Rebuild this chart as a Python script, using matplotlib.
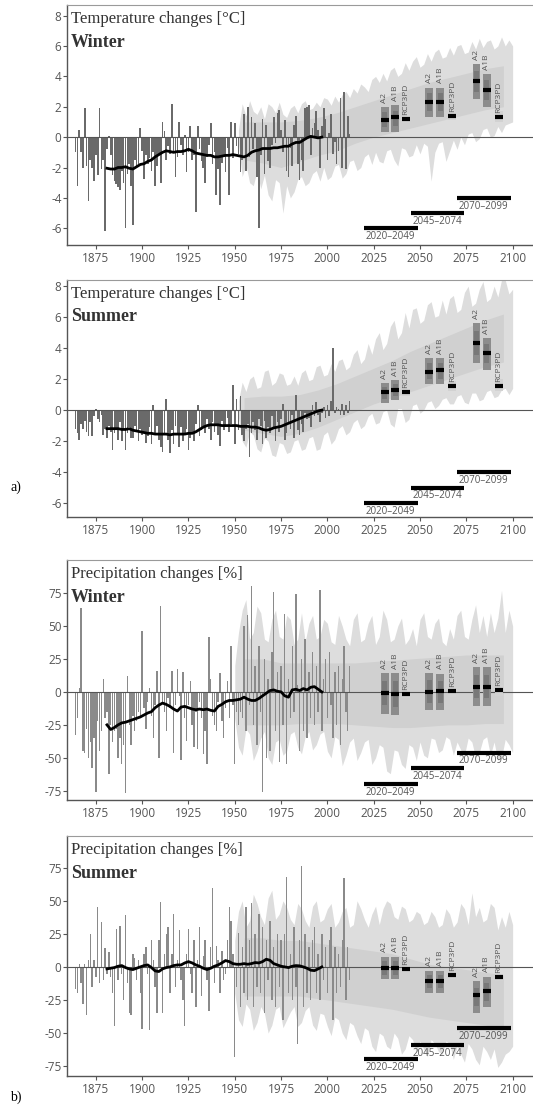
import matplotlib
matplotlib.use("Agg")
import matplotlib.pyplot as plt
from matplotlib.patches import Rectangle

plt.rcParams['axes.unicode_minus'] = False
plt.rcParams['font.family'] = ['Open Sans', 'DejaVu Sans']

# ---------------- data ----------------
OBS_YEARS = list(range(1864, 2013))
SMOOTH_YEARS = list(range(1881, 1998, 2))
BAND_YEARS_T = list(range(1952, 2101, 2))
BAND_YEARS_P = list(range(1950, 2101, 2))
INNER_YEARS = list(range(1955, 2096, 10))

BOX_X = [2031, 2036.5, 2042.5, 2055, 2061, 2067.5, 2080.5, 2086, 2092.5]
BOX_NAMES = ['A2', 'A1B', 'RCP3PD'] * 3
PERIODS = [(2020, 2049), (2045, 2074), (2070, 2099)]
PERIOD_LABELS = ['2020\u20132049', '2045\u20132074', '2070\u20132099']

# panel 1: temperature, winter
tw_obs = [-1.0, -3.2, 0.5, -1.0, -2.0, 1.9, -1.9, -4.2, -1.5, -2.0,
          -2.9, -1.2, -2.5, 1.95, -2.1, -1.5, -6.2, -0.8, 0.1, -1.2,
          -2.5, -2.9, -3.1, -3.3, -3.5, -2.2, -3.0, -6.0, -2.4, -1.8,
          -3.2, -5.8, -1.5, -2.0, -1.8, 0.6, -0.9, -2.75, -1.2, -1.8,
          -1.4, -2.2, -1.0, -3.2, -1.9, -1.2, -3.0, 1.0, 0.4, -1.5,
          -0.6, -1.1, 2.2, -0.9, -2.6, -1.3, 1.0, -0.5, -1.2, 0.15,
          -2.3, -1.0, 0.7, -1.5, -1.2, -4.9, 0.7, -0.8, -1.6, -2.0,
          -3.0, -1.3, -0.5, 0.9, -1.8, -1.0, -3.8, -2.1, -4.5, -1.7,
          -1.2, -2.3, -0.7, -3.8, 1.0, -1.4, 0.9, -0.6, -1.1, -2.3,
          -1.5, 1.5, -2.2, 2.0, -1.3, 1.3, -0.8, 0.9, -2.6, -6.0,
          -1.2, 1.2, -2.4, 0.8, -1.6, -2.0, -0.5, 1.3, -0.4, 1.6,
          1.8, 0.5, -1.0, 1.1, -2.2, -2.6, -0.7, -1.9, 0.8, 1.4,
          -1.8, -2.8, -1.5, -2.2, 1.9, 2.0, 2.1, -1.2, 0.6, 0.9,
          1.7, 0.5, -2.0, 0.7, 1.9, 1.2, -1.5, 0.3, 1.5, -1.1,
          -0.3, -1.8, -0.9, 2.6, -2.0, 3.0, -2.1, 1.4, 0.2]
tw_smooth = [-2.05, -2.1, -2.1, -2.0, -2.0, -1.95, -2.05, -2.1, -1.95, -1.8,
             -1.75, -1.6, -1.5, -1.3, -1.15, -1.0, -0.9, -0.95, -1.0, -0.95,
             -0.95, -0.9, -0.8, -0.9, -1.05, -1.1, -1.15, -1.2, -1.2, -1.3,
             -1.3, -1.25, -1.2, -1.2, -1.15, -1.2, -1.25, -1.3, -1.2, -1.0,
             -0.9, -0.85, -0.75, -0.75, -0.75, -0.7, -0.7, -0.65, -0.6, -0.6,
             -0.45, -0.35, -0.35, -0.2, -0.05, 0.05, 0.0, -0.05, 0.0]
tw_band_up = [0.5, 2.2, 1.4, 2.4, 1.7, 1.5, 2.0, 1.2, 2.2, 2.0,
              1.6, 2.3, 1.5, 1.3, 1.9, 2.1, 1.6, 2.2, 2.4, 1.8,
              1.9, 2.3, 2.0, 2.6, 2.5, 2.1, 2.7, 2.3, 2.8, 3.0,
              2.6, 3.2, 2.9, 3.5, 3.3, 3.0, 3.8, 4.0, 3.6, 4.2,
              3.7, 4.4, 4.6, 4.0, 4.2, 4.9, 4.4, 5.0, 5.3, 4.6,
              4.8, 5.5, 5.0, 5.6, 5.8, 5.2, 5.3, 5.9, 5.4, 6.0,
              6.1, 5.5, 5.6, 6.3, 5.8, 6.5, 5.9, 6.3, 6.4, 5.8,
              6.0, 6.6, 6.0, 6.4, 6.0]
tw_band_lo = [-0.5, -2.6, -1.8, -3.0, -3.2, -2.2, -3.4, -2.5, -3.8, -4.2,
              -2.8, -3.0, -5.0, -3.2, -4.0, -3.6, -2.8, -2.6, -3.2, -3.0,
              -2.4, -2.2, -2.9, -2.0, -2.8, -2.6, -1.9, -1.8, -2.7, -2.4,
              -1.6, -1.5, -2.2, -2.0, -1.3, -1.1, -1.8, -1.0, -1.6, -1.7,
              -0.9, -0.8, -1.5, -1.9, -0.7, -0.8, -1.3, -1.2, -0.5, -1.1,
              -0.4, -0.6, -2.9, -1.0, -0.4, -0.3, -1.6, -0.9, -0.2, -0.8,
              0.0, -0.5, 0.2, 0.3, -0.3, -0.1, 0.5, 0.6, 0.0, 0.1,
              0.7, 0.3, 0.8, 0.9, 1.0]
tw_inner_up = [1.0, 1.0, 1.0, 1.1, 1.3, 1.6, 2.0, 2.4, 2.8, 3.2, 3.6, 3.9, 4.2, 4.5, 4.7]
tw_inner_lo = [-1.5, -1.7, -2.0, -1.6, -1.2, -0.9, -0.4, 0.0, 0.3, 0.6, 0.9, 1.2, 1.5, 1.8, 2.0]
tw_box_lo = [0.35, 0.35, 0.9, 1.34, 1.34, 1.1, 2.54, 1.99, 1.0]
tw_box_hi = [2.0, 2.1, 1.5, 3.26, 3.26, 1.7, 4.83, 4.17, 1.7]
tw_box_med = [1.13, 1.3, 1.2, 2.32, 2.32, 1.4, 3.67, 3.13, 1.34]

# panel 2: temperature, summer
ts_obs = [-1.2, -1.5, -1.9, -0.9, -1.2, -0.7, -1.4, -1.7, -0.8, -1.7,
          -0.4, 0.05, -0.6, -0.8, -0.3, -1.6, -1.2, -1.8, -1.0, -1.4,
          -2.6, -1.5, -1.2, -1.9, -0.8, -2.0, -1.3, -2.6, -1.5, -1.1,
          -1.8, -1.8, -1.0, -1.4, -2.0, -1.2, -1.6, -1.4, -2.1, -1.7,
          -1.1, -2.2, 0.3, -1.5, -1.0, -1.9, -2.4, -2.7, -1.6, 0.7,
          -1.9, -2.8, -1.3, -2.2, -1.0, -1.5, -2.4, -1.1, -2.0, -1.6,
          -1.2, -2.6, -1.8, -1.4, -2.0, -0.9, 0.3, -1.7, -1.3, -1.0,
          -1.5, -0.6, -1.2, -1.9, -0.8, -1.4, -1.0, -1.6, -2.3, -0.7,
          -1.3, -1.1, -0.5, -1.4, -0.9, 1.6, -2.2, 0.7, -1.3, 0.9,
          -1.6, -2.0, -1.2, -0.9, -3.0, -1.5, -0.8, -1.3, -1.9, -0.6,
          -1.0, -2.2, -0.7, -1.8, -1.1, -1.5, -0.4, -1.2, -2.0, -0.8,
          -1.4, -0.6, 0.4, -1.9, -1.5, -0.8, -1.2, -0.3, -1.8, 1.0,
          -1.3, -1.6, -0.9, -1.4, -0.2, -0.6, -0.5, -1.1, 0.3, -0.4,
          0.5, -0.3, -0.8, -0.2, 0.2, -0.5, 0.3, -0.4, 0.6, 4.0,
          -0.2, 0.2, 0.1, -0.3, 0.4, -0.3, 0.3, -0.2, 0.6]
ts_smooth = [-1.2, -1.2, -1.2, -1.2, -1.25, -1.25, -1.2, -1.3, -1.35, -1.4,
             -1.45, -1.5, -1.5, -1.55, -1.55, -1.55, -1.55, -1.6, -1.55, -1.55,
             -1.55, -1.55, -1.5, -1.5, -1.4, -1.25, -1.1, -1.0, -0.95, -0.95,
             -0.95, -1.0, -1.0, -1.0, -1.0, -1.0, -1.05, -1.05, -1.05, -1.1,
             -1.1, -1.15, -1.25, -1.3, -1.25, -1.15, -1.1, -1.05, -0.95, -0.85,
             -0.75, -0.65, -0.55, -0.45, -0.35, -0.25, -0.15, -0.05, 0.0]
ts_band_up = [0.6, 1.8, 1.2, 2.0, 2.2, 1.4, 1.5, 2.5, 2.6, 1.6,
              1.8, 2.4, 2.3, 1.6, 1.7, 2.2, 1.6, 2.4, 2.6, 1.9,
              2.0, 2.8, 2.9, 2.2, 2.3, 3.0, 2.5, 3.2, 3.3, 2.6,
              2.8, 3.6, 3.9, 3.0, 3.3, 4.3, 3.6, 4.6, 5.0, 3.9,
              4.3, 5.4, 5.8, 4.6, 5.0, 6.3, 5.3, 6.5, 6.6, 5.6,
              5.8, 6.8, 7.0, 6.0, 6.1, 7.1, 6.2, 7.2, 7.4, 6.3,
              6.5, 7.6, 8.0, 6.7, 6.9, 7.8, 8.3, 7.0, 7.2, 8.0,
              7.3, 8.4, 8.4, 7.5, 7.8]
ts_band_lo = [-0.5, -2.0, -2.4, -1.4, -1.6, -2.5, -2.7, -1.8, -2.0, -2.9,
              -3.0, -2.1, -2.2, -2.8, -2.7, -2.0, -1.9, -2.6, -2.5, -1.8,
              -1.7, -2.6, -2.5, -1.6, -1.4, -2.2, -1.9, -1.2, -1.0, -1.6,
              -1.4, -0.8, -0.6, -1.2, -1.0, -0.4, -0.2, -0.9, -0.8, -0.1,
              0.0, -0.9, -1.1, 0.1, 0.1, -0.8, -0.6, 0.3, 0.4, -0.2,
              0.0, 0.5, 0.6, 0.1, 0.3, 0.7, 0.8, 0.4, 0.4, 0.9,
              1.0, 0.5, 0.4, 1.1, 1.1, 0.6, 0.7, 1.2, 1.3, 0.8,
              0.9, 1.3, 1.4, 1.0, 1.4]
ts_inner_up = [0.8, 0.9, 0.9, 1.0, 1.3, 1.7, 2.2, 2.7, 3.2, 3.8, 4.3, 4.8, 5.3, 5.8, 6.2]
ts_inner_lo = [-1.3, -1.5, -1.7, -1.5, -1.1, -0.6, -0.1, 0.4, 0.8, 1.2, 1.6, 2.0, 2.4, 2.8, 3.1]
ts_box_lo = [0.45, 0.62, 0.9, 1.7, 1.7, 1.2, 3.03, 2.6, 1.2]
ts_box_hi = [1.74, 1.96, 1.5, 3.35, 3.35, 1.9, 5.6, 4.65, 2.0]
ts_box_med = [1.14, 1.27, 1.18, 2.49, 2.56, 1.53, 4.32, 3.68, 1.57]

# panel 3: precipitation, winter
pw_obs = [-33, -20, 3, 64, -45, -46, -28, -50, -38, -58,
          -35, -76, -22, -45, -30, 10, -20, -15, -62, -25,
          -38, -30, -28, -50, -35, -55, -40, -77, 12, -25,
          -40, -18, -30, -22, -15, -20, 46, -12, -28, -8,
          3, -18, -35, -10, 16, -50, 65, -8, -15, -30,
          -5, -12, 16, -46, -10, 17, -3, -52, 15, -20,
          -37, -10, 8, -25, -42, -15, -43, -8, -20, -47,
          -30, -55, 42, 10, -18, -25, -30, -8, 14, -22,
          -35, -12, 8, -20, 35, -10, -55, -15, -25, -15,
          -20, 50, -30, 58, -10, 80, -25, 20, -40, 35,
          -15, -76, 25, -50, 10, -45, 30, 76, -30, 15,
          -53, 20, -25, 59, -55, 10, -20, 35, -15, 74,
          5, -45, 25, -30, 40, -35, 15, -20, 30, -25,
          20, -15, 77, -30, 10, 25, -20, 30, -10, -35,
          15, -25, 20, -40, 10, 35, -15, -30, 20]
pw_smooth = [-25, -28.5, -27, -25, -23.5, -23, -22, -21, -20, -19,
             -17.5, -16, -15, -12, -10, -8.5, -9.5, -11, -13, -14.5,
             -11.5, -11, -12, -13, -13.5, -13, -13.5, -13, -14, -14.5,
             -11, -9.5, -7.5, -6.5, -6.5, -6, -5.5, -4, -5.5, -6.5,
             -6.5, -5, -3, -1, 1, 1.5, 0.5, 0, -3, -4,
             1.5, 2, 1, 2.5, 1.5, 3.5, 4, 2, 0]
pw_band_up = [20, 45, 62, 70, 40, 45, 65, 60, 40, 38,
              55, 62, 42, 40, 58, 55, 36, 40, 60, 38,
              52, 58, 40, 42, 55, 52, 38, 36, 58, 50,
              40, 35, 55, 60, 38, 40, 52, 58, 36, 42,
              62, 55, 38, 40, 50, 56, 36, 40, 48, 35,
              55, 60, 42, 40, 52, 56, 38, 35, 48, 40,
              58, 62, 42, 40, 55, 66, 45, 58, 42, 60,
              45, 56, 77, 45, 62, 50]
pw_band_lo = [-20, -42, -48, -28, -32, -52, -45, -35, -30, -50,
              -55, -38, -36, -48, -45, -32, -30, -42, -47, -34,
              -30, -44, -40, -32, -30, -45, -50, -34, -36, -56,
              -48, -38, -35, -52, -46, -38, -36, -55, -50, -40,
              -42, -60, -62, -44, -45, -55, -58, -40, -42, -52,
              -38, -48, -50, -35, -36, -46, -44, -34, -36, -48,
              -38, -44, -48, -35, -38, -50, -46, -36, -34, -48,
              -38, -52, -50, -36, -40, -46]
pw_inner_up = [25, 25, 22, 22, 22, 22, 22, 23, 24, 25, 26, 27, 28, 28, 28]
pw_inner_lo = [-25, -25, -25, -24, -24, -24, -25, -26, -27, -27, -26, -25, -25, -24, -24]
pw_box_lo = [-16.4, -17.7, -5, -13.9, -13.9, -4, -10.9, -10.9, -3]
pw_box_hi = [14.4, 14.4, 2, 14.4, 13.9, 4, 18.9, 18.9, 5]
pw_box_med = [-0.8, -1.8, -1.8, 0, 0.8, 0.8, 3.8, 3.8, 1.5]

# panel 4: precipitation, summer
ps_obs = [-17, -20, 2, -12, -28, 2, -36, 5, 25, -15,
          5, -8, 45, -12, 34, -10, 14, -5, 11, -8,
          -20, -45, 29, -10, 31, -5, -25, 39, -12, -35,
          -36, 10, 7, -10, 5, -20, -47, 10, 15, -5,
          -48, 20, 5, -15, -35, 20, 49, -35, 10, 25,
          30, -20, 10, 40, -15, 5, 28, -10, -25, -45,
          10, 29, -5, -20, 20, -30, 5, 30, -22, 8,
          20, -10, -33, 15, 60, -12, 16, 5, -20, 12,
          -10, -5, 20, 45, 35, 10, -68, -15, 26, -30,
          15, -20, 45, -25, 20, 48, -30, 25, -15, 40,
          -20, 30, -35, 20, -10, 35, -25, 15, -30, 25,
          -15, 20, -40, 25, 68, -20, 10, -25, 30, -15,
          -58, 20, 76, -30, 25, -20, 15, -25, 20, 30,
          -20, 10, -25, 25, -10, 15, -20, 20, 30, -40,
          15, -20, 10, -15, 20, 67, -25, 15, -10]
ps_smooth = [-1.5, -1.0, -0.5, 0.5, 1.0, -0.5, -1.5, -2.0, -1.0, 0.0,
             1.0, 1.5, -0.5, -3.0, -3.5, -1.5, -0.5, 0.0, 1.0, 1.5,
             1.5, 3.0, 4.0, 3.0, 1.5, 0.5, -1.0, -2.0, -1.0, 0.5,
             1.5, 3.0, 4.8, 4.0, 2.5, 2.0, 2.0, 2.5, 2.0, 2.5,
             3.3, 3.0, 4.0, 5.8, 5.0, 2.5, 1.5, 0.5, 0.0, -0.5,
             0.5, 1.0, 0.8, 0.0, -1.0, -2.5, -2.8, -1.5, 0.0]
ps_band_up = [20, 42, 50, 30, 35, 55, 48, 38, 32, 52,
              58, 36, 40, 50, 45, 36, 32, 48, 44, 35,
              30, 46, 50, 34, 36, 44, 48, 30, 34, 42,
              45, 30, 32, 50, 44, 36, 30, 40, 46, 32,
              44, 50, 48, 38, 36, 46, 44, 34, 36, 42,
              40, 32, 34, 42, 38, 30, 32, 44, 40, 30,
              34, 48, 44, 32, 56, 38, 45, 34, 36, 48,
              45, 28, 38, 30, 42, 32]
ps_band_lo = [-20, -40, -45, -28, -32, -48, -42, -30, -35, -50,
              -44, -32, -30, -46, -40, -34, -30, -45, -42, -33,
              -30, -44, -48, -35, -36, -45, -52, -38, -40, -50,
              -55, -42, -44, -52, -58, -46, -48, -60, -64, -50,
              -52, -60, -62, -50, -54, -66, -62, -52, -55, -65,
              -56, -62, -68, -55, -58, -64, -66, -56, -58, -70,
              -60, -66, -72, -58, -62, -70, -74, -60, -64, -70,
              -62, -76, -72, -66, -64, -60]
ps_inner_up = [22, 22, 20, 20, 18, 16, 14, 12, 10, 6, 2, 0, -2, -4, -6]
ps_inner_lo = [-22, -22, -22, -22, -24, -26, -28, -30, -32, -35, -38, -40, -42, -44, -46]
ps_box_lo = [-9.3, -9.3, -4, -19.4, -19.4, -9, -34.6, -30.6, -11]
ps_box_hi = [7.8, 7.8, 1, -2.8, -2.8, -3, -11, -7.3, -5]
ps_box_med = [-1, -1, -1.5, -10.4, -10.4, -6, -21.2, -18.2, -8]

GREY_TXT = '#555555'


def draw_panel(ax, obs, smooth, band_years, band_up, band_lo, inner_up, inner_lo,
               box_lo, box_hi, box_med, period_y, ylim, yticks, title, season,
               obs_color, bar_w):
    ax.fill_between(band_years, band_lo, band_up, color='#dddddd', lw=0, zorder=1)
    ax.fill_between(INNER_YEARS, inner_lo, inner_up, color='#d0d0d0', lw=0, zorder=1.2)
    ax.bar(OBS_YEARS, obs, width=bar_w, color=obs_color, zorder=2)
    ax.axhline(0, color='#555555', lw=0.8, zorder=2.5)
    ax.plot(SMOOTH_YEARS, smooth, color='black', lw=2, zorder=5)

    # scenario boxes
    w = 4.3
    for x, lo, hi, med, name in zip(BOX_X, box_lo, box_hi, box_med, BOX_NAMES):
        if name == 'RCP3PD':
            ax.add_patch(Rectangle((x - w / 2, lo), w, hi - lo, color='#d2d2d2', lw=0, zorder=3))
            top = med
        else:
            ax.add_patch(Rectangle((x - w / 2, lo), w, hi - lo, color='#8c8c8c', lw=0, zorder=3))
            ax.add_patch(Rectangle((x - w / 2 + 0.8, lo + (hi - lo) * 0.2), w - 1.6,
                                   (hi - lo) * 0.6, color='#787878', lw=0, zorder=3.1))
            top = hi
        ax.plot([x - w / 2, x + w / 2], [med, med], color='black', lw=3,
                solid_capstyle='butt', zorder=4)
        ax.annotate(name, (x, top), xytext=(0, 3), textcoords='offset points',
                    rotation=90, ha='center', va='bottom', fontsize=6,
                    color=GREY_TXT, zorder=4)

    # period bars
    for (x0, x1), y, lab in zip(PERIODS, period_y, PERIOD_LABELS):
        ax.plot([x0, x1], [y, y], color='black', lw=3, solid_capstyle='butt', zorder=4)
        ax.annotate(lab, (x0, y), xytext=(1, -2), textcoords='offset points',
                    ha='left', va='top', fontsize=7, color=GREY_TXT, zorder=4)

    ax.set_xlim(1859.5, 2111)
    ax.set_ylim(*ylim)
    ax.set_yticks(yticks)
    ax.set_xticks([1875, 1900, 1925, 1950, 1975, 2000, 2025, 2050, 2075, 2100])
    ax.tick_params(axis='both', labelsize=8.5, colors='#555555', length=3, width=0.8, pad=2)
    ax.tick_params(axis='y', pad=1)
    ax.spines['right'].set_visible(False)
    ax.spines['top'].set_color('#9a9a9a')
    ax.spines['top'].set_linewidth(0.8)
    for s in ['left', 'bottom']:
        ax.spines[s].set_color('#555555')
        ax.spines[s].set_linewidth(1.0)

    ax.text(0.008, 0.94, title, transform=ax.transAxes, ha='left', va='center',
            fontsize=12, family='Liberation Serif', color='#333333', zorder=6,
            bbox=dict(facecolor='white', edgecolor='none', pad=1.5))
    ax.text(0.008, 0.845, season, transform=ax.transAxes, ha='left', va='center',
            fontsize=13, family='Liberation Serif', fontweight='bold', color='#333333', zorder=6)


fig = plt.figure(figsize=(5.33, 11.07), dpi=100)
L, W = 0.126, 0.874
ax1 = fig.add_axes([L, 0.7787, W, 0.2168])
ax2 = fig.add_axes([L, 0.5330, W, 0.2141])
ax3 = fig.add_axes([L, 0.2773, W, 0.2168])
ax4 = fig.add_axes([L, 0.0280, W, 0.2168])

draw_panel(ax1, tw_obs, tw_smooth, BAND_YEARS_T, tw_band_up, tw_band_lo, tw_inner_up, tw_inner_lo,
           tw_box_lo, tw_box_hi, tw_box_med, [-6, -5, -4], (-7.1, 8.7), list(range(-6, 9, 2)),
           'Temperature changes [\u00b0C]', 'Winter', '#6a6a6a', 0.9)
draw_panel(ax2, ts_obs, ts_smooth, BAND_YEARS_T, ts_band_up, ts_band_lo, ts_inner_up, ts_inner_lo,
           ts_box_lo, ts_box_hi, ts_box_med, [-6, -5, -4], (-6.9, 8.4), list(range(-6, 9, 2)),
           'Temperature changes [\u00b0C]', 'Summer', '#6a6a6a', 0.9)
draw_panel(ax3, pw_obs, pw_smooth, BAND_YEARS_P, pw_band_up, pw_band_lo, pw_inner_up, pw_inner_lo,
           pw_box_lo, pw_box_hi, pw_box_med, [-70, -58, -46], (-82, 100), list(range(-75, 76, 25)),
           'Precipitation changes [%]', 'Winter', '#8a8a8a', 0.75)
draw_panel(ax4, ps_obs, ps_smooth, BAND_YEARS_P, ps_band_up, ps_band_lo, ps_inner_up, ps_inner_lo,
           ps_box_lo, ps_box_hi, ps_box_med, [-70, -59, -46.5], (-82.5, 99), list(range(-75, 76, 25)),
           'Precipitation changes [%]', 'Summer', '#8a8a8a', 0.75)

fig.text(10 / 533, 1 - 487 / 1107, 'a)', fontsize=10, family='Liberation Serif', va='center')
fig.text(10 / 533, 1 - 1097 / 1107, 'b)', fontsize=10, family='Liberation Serif', va='center')

fig.savefig('out.png', dpi=100)
